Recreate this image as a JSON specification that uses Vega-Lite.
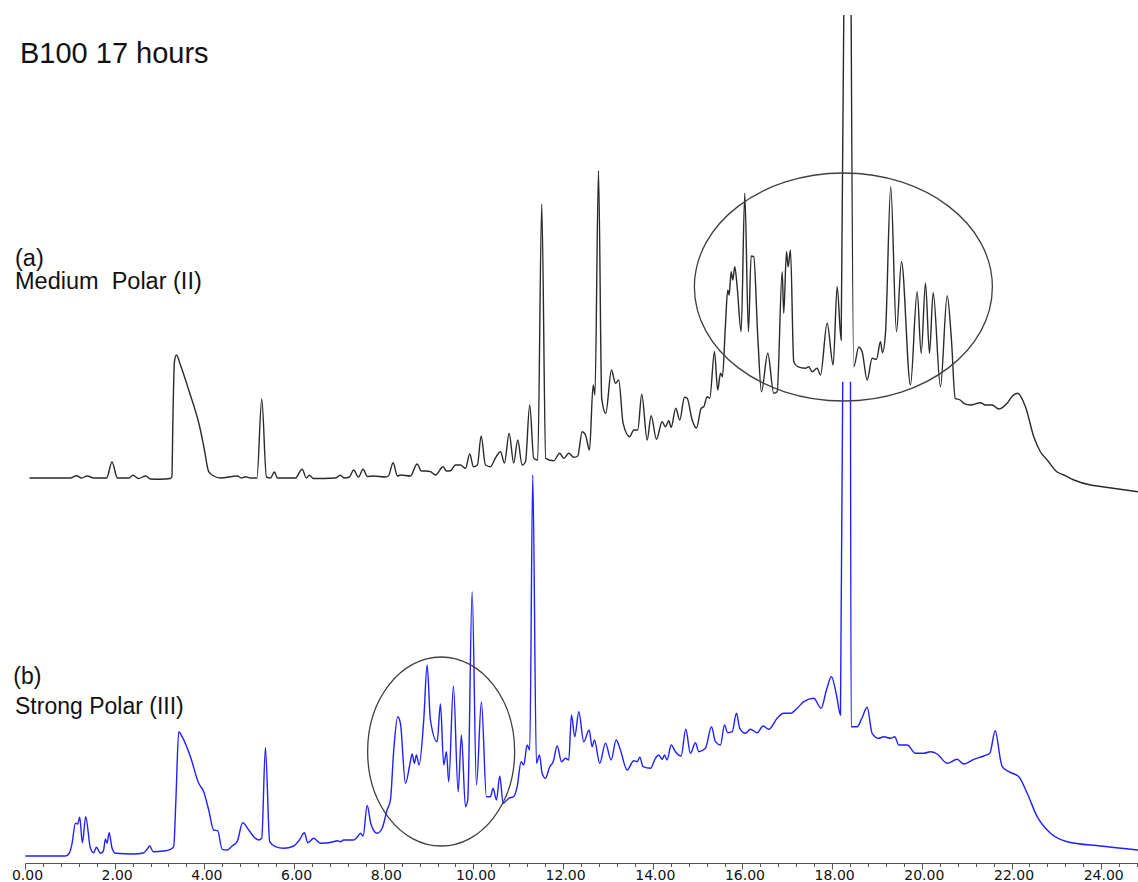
{
  "$schema": "https://vega.github.io/schema/vega-lite/v6.json",
  "width": 1113,
  "height": 863,
  "autosize": "none",
  "padding": {"left": 25, "top": 0, "right": 0, "bottom": 19},
  "background": "white",
  "config": {"view": {"stroke": null}, "font": "Liberation Sans"},
  "datasets": {
    "mediumPolar": [
      {"t": 0.10, "v": 0}, {"t": 1.01, "v": 0}, {"t": 1.15, "v": 2.3}, {"t": 1.26, "v": 0}, {"t": 1.39, "v": 2}, {"t": 1.53, "v": 0},
      {"t": 1.82, "v": 0}, {"t": 1.94, "v": 16}, {"t": 2.06, "v": 0}, {"t": 2.31, "v": 0}, {"t": 2.41, "v": 2.7}, {"t": 2.53, "v": -0.5},
      {"t": 2.69, "v": 2}, {"t": 2.80, "v": -1}, {"t": 3.02, "v": -1.3}, {"t": 3.24, "v": -0.5}, {"t": 3.276, "v": 1}, {"t": 3.298, "v": 58},
      {"t": 3.332, "v": 116}, {"t": 3.376, "v": 123}, {"t": 3.466, "v": 113}, {"t": 3.651, "v": 88}, {"t": 3.912, "v": 48}, {"t": 4.001, "v": 28},
      {"t": 4.097, "v": 6.3}, {"t": 4.208, "v": 2}, {"t": 4.358, "v": 0}, {"t": 4.737, "v": 2}, {"t": 4.826, "v": 0}, {"t": 4.915, "v": 1.3},
      {"t": 5.027, "v": 0}, {"t": 5.172, "v": 0}, {"t": 5.279, "v": 79}, {"t": 5.384, "v": 1}, {"t": 5.473, "v": 0}, {"t": 5.562, "v": 6},
      {"t": 5.629, "v": 0}, {"t": 6.030, "v": 0}, {"t": 6.180, "v": 8.7}, {"t": 6.275, "v": 0}, {"t": 6.342, "v": 2.7}, {"t": 6.432, "v": -0.5},
      {"t": 6.922, "v": 0}, {"t": 7.034, "v": 2.7}, {"t": 7.123, "v": 0}, {"t": 7.235, "v": 1}, {"t": 7.330, "v": 8}, {"t": 7.435, "v": 1},
      {"t": 7.540, "v": 8.7}, {"t": 7.636, "v": 1.5}, {"t": 7.770, "v": 2}, {"t": 8.038, "v": 1}, {"t": 8.104, "v": 2}, {"t": 8.209, "v": 15.3},
      {"t": 8.305, "v": 2}, {"t": 8.372, "v": 3}, {"t": 8.595, "v": 2}, {"t": 8.744, "v": 14}, {"t": 8.840, "v": 7}, {"t": 8.930, "v": 7},
      {"t": 9.041, "v": 6.3}, {"t": 9.153, "v": 3}, {"t": 9.324, "v": 11.3}, {"t": 9.398, "v": 7}, {"t": 9.488, "v": 7.3}, {"t": 9.600, "v": 13},
      {"t": 9.711, "v": 13}, {"t": 9.823, "v": 9.7}, {"t": 9.918, "v": 24}, {"t": 10.000, "v": 11.3}, {"t": 10.089, "v": 13}, {"t": 10.172, "v": 42},
      {"t": 10.268, "v": 13}, {"t": 10.380, "v": 11.3}, {"t": 10.491, "v": 20}, {"t": 10.603, "v": 26.3}, {"t": 10.692, "v": 15}, {"t": 10.796, "v": 44.7},
      {"t": 10.898, "v": 15}, {"t": 10.988, "v": 38}, {"t": 11.086, "v": 13}, {"t": 11.160, "v": 16}, {"t": 11.255, "v": 73}, {"t": 11.345, "v": 19.7},
      {"t": 11.434, "v": 18}, {"t": 11.523, "v": 274}, {"t": 11.612, "v": 19.7}, {"t": 11.790, "v": 17.3}, {"t": 11.925, "v": 24.7}, {"t": 12.014, "v": 19.7},
      {"t": 12.126, "v": 24.7}, {"t": 12.237, "v": 20.7}, {"t": 12.326, "v": 22}, {"t": 12.425, "v": 46.3}, {"t": 12.499, "v": 43}, {"t": 12.588, "v": 28},
      {"t": 12.670, "v": 93}, {"t": 12.710, "v": 83}, {"t": 12.789, "v": 307.3}, {"t": 12.861, "v": 79.7}, {"t": 12.951, "v": 64.7}, {"t": 13.078, "v": 108},
      {"t": 13.167, "v": 94.7}, {"t": 13.240, "v": 98}, {"t": 13.338, "v": 54.7}, {"t": 13.486, "v": 41.3}, {"t": 13.575, "v": 48}, {"t": 13.664, "v": 48},
      {"t": 13.754, "v": 83.7}, {"t": 13.874, "v": 38}, {"t": 13.963, "v": 62.3}, {"t": 14.081, "v": 38.7}, {"t": 14.208, "v": 56.3}, {"t": 14.282, "v": 51.3},
      {"t": 14.356, "v": 57.3}, {"t": 14.409, "v": 50.7}, {"t": 14.512, "v": 69.7}, {"t": 14.601, "v": 58}, {"t": 14.706, "v": 80.7}, {"t": 14.766, "v": 79.7},
      {"t": 14.878, "v": 58}, {"t": 14.974, "v": 50}, {"t": 15.079, "v": 69.7}, {"t": 15.136, "v": 71.3}, {"t": 15.212, "v": 81.3}, {"t": 15.270, "v": 79.7},
      {"t": 15.375, "v": 126.3}, {"t": 15.448, "v": 88}, {"t": 15.509, "v": 104.7}, {"t": 15.553, "v": 101.3}, {"t": 15.620, "v": 153}, {"t": 15.671, "v": 188},
      {"t": 15.702, "v": 183}, {"t": 15.747, "v": 206.3}, {"t": 15.783, "v": 198}, {"t": 15.828, "v": 211.3}, {"t": 15.881, "v": 191.3}, {"t": 15.970, "v": 146.3},
      {"t": 16.051, "v": 284.7}, {"t": 16.133, "v": 146.3}, {"t": 16.193, "v": 222}, {"t": 16.251, "v": 221.3}, {"t": 16.341, "v": 141.3}, {"t": 16.423, "v": 86.3},
      {"t": 16.564, "v": 124.7}, {"t": 16.697, "v": 84.7}, {"t": 16.773, "v": 86.3}, {"t": 16.885, "v": 206.3}, {"t": 16.920, "v": 164.7}, {"t": 16.981, "v": 226.3},
      {"t": 17.018, "v": 211.3}, {"t": 17.070, "v": 228}, {"t": 17.143, "v": 116.3}, {"t": 17.232, "v": 111.3}, {"t": 17.404, "v": 109.7}, {"t": 17.478, "v": 111.3},
      {"t": 17.553, "v": 106.3}, {"t": 17.665, "v": 109.7}, {"t": 17.739, "v": 103}, {"t": 17.888, "v": 154.7}, {"t": 18.022, "v": 113}, {"t": 18.111, "v": 191.3},
      {"t": 18.201, "v": 138}, {"t": 18.259, "v": 463}, {"t": 18.34, "v": null}, {"t": 18.423, "v": 463}, {"t": 18.481, "v": 111.3}, {"t": 18.593, "v": 130.7},
      {"t": 18.668, "v": 126.3}, {"t": 18.780, "v": 98}, {"t": 18.891, "v": 119.7}, {"t": 18.988, "v": 118.7}, {"t": 19.077, "v": 136.3}, {"t": 19.122, "v": 125.3},
      {"t": 19.189, "v": 144.7}, {"t": 19.306, "v": 291.3}, {"t": 19.434, "v": 146.3}, {"t": 19.545, "v": 216.3}, {"t": 19.746, "v": 93}, {"t": 19.895, "v": 186.3},
      {"t": 19.985, "v": 124.7}, {"t": 20.081, "v": 194.7}, {"t": 20.170, "v": 124.7}, {"t": 20.252, "v": 185.3}, {"t": 20.415, "v": 91.3}, {"t": 20.565, "v": 182.3},
      {"t": 20.66, "v": 138}, {"t": 20.743, "v": 79.7}, {"t": 20.855, "v": 78}, {"t": 20.934, "v": 74.7}, {"t": 21.083, "v": 73}, {"t": 21.306, "v": 75.3},
      {"t": 21.418, "v": 73}, {"t": 21.567, "v": 73}, {"t": 21.714, "v": 69}, {"t": 21.902, "v": 74.7}, {"t": 22.020, "v": 82}, {"t": 22.132, "v": 84.7},
      {"t": 22.310, "v": 71.3}, {"t": 22.496, "v": 41.3}, {"t": 22.646, "v": 26}, {"t": 22.795, "v": 18}, {"t": 23.018, "v": 6}, {"t": 23.167, "v": 3},
      {"t": 23.390, "v": -2}, {"t": 23.762, "v": -7}, {"t": 23.985, "v": -8.5}, {"t": 24.82, "v": -13.7}
    ],
    "strongPolar": [
      {"t": 0.01, "v": 1}, {"t": 0.90, "v": 1}, {"t": 0.99, "v": 4}, {"t": 1.05, "v": 13.7}, {"t": 1.124, "v": 33.7}, {"t": 1.175, "v": 33},
      {"t": 1.22, "v": 39.7}, {"t": 1.28, "v": 14.3}, {"t": 1.354, "v": 40.3}, {"t": 1.459, "v": 8.7}, {"t": 1.532, "v": 4.3}, {"t": 1.592, "v": 9.7},
      {"t": 1.682, "v": 3.7}, {"t": 1.748, "v": 6}, {"t": 1.793, "v": 18}, {"t": 1.831, "v": 13.7}, {"t": 1.876, "v": 24.3}, {"t": 1.942, "v": 8.7},
      {"t": 2.016, "v": 3.7}, {"t": 2.424, "v": 3}, {"t": 2.64, "v": 4}, {"t": 2.723, "v": 7.7}, {"t": 2.781, "v": 11}, {"t": 2.857, "v": 5.3},
      {"t": 3.093, "v": 6}, {"t": 3.243, "v": 7.7}, {"t": 3.316, "v": 10.3}, {"t": 3.365, "v": 57}, {"t": 3.428, "v": 125.3}, {"t": 3.503, "v": 120.3},
      {"t": 3.689, "v": 100.3}, {"t": 3.874, "v": 73.7}, {"t": 3.985, "v": 65.3}, {"t": 4.097, "v": 47}, {"t": 4.208, "v": 27}, {"t": 4.297, "v": 26.3},
      {"t": 4.396, "v": 7.7}, {"t": 4.507, "v": 7}, {"t": 4.619, "v": 11}, {"t": 4.73, "v": 15.3}, {"t": 4.855, "v": 34.3}, {"t": 4.989, "v": 27},
      {"t": 5.138, "v": 18.7}, {"t": 5.212, "v": 17}, {"t": 5.279, "v": 18.7}, {"t": 5.361, "v": 109.3}, {"t": 5.457, "v": 15.3}, {"t": 5.584, "v": 10.3},
      {"t": 5.769, "v": 8.7}, {"t": 5.992, "v": 11}, {"t": 6.12, "v": 17}, {"t": 6.231, "v": 24.3}, {"t": 6.305, "v": 14.3}, {"t": 6.439, "v": 18.7},
      {"t": 6.588, "v": 13.7}, {"t": 6.885, "v": 15.3}, {"t": 6.96, "v": 16.3}, {"t": 7.034, "v": 15.3}, {"t": 7.108, "v": 17}, {"t": 7.331, "v": 17},
      {"t": 7.406, "v": 19.7}, {"t": 7.48, "v": 23.7}, {"t": 7.54, "v": 21}, {"t": 7.63, "v": 51.5}, {"t": 7.714, "v": 33}, {"t": 7.852, "v": 23.7},
      {"t": 7.964, "v": 28.7}, {"t": 8.075, "v": 47}, {"t": 8.149, "v": 57}, {"t": 8.223, "v": 107}, {"t": 8.312, "v": 140.3}, {"t": 8.372, "v": 133.7},
      {"t": 8.484, "v": 73.7}, {"t": 8.58, "v": 92}, {"t": 8.633, "v": 103}, {"t": 8.684, "v": 93.7}, {"t": 8.729, "v": 102}, {"t": 8.789, "v": 92},
      {"t": 8.892, "v": 137}, {"t": 8.967, "v": 192}, {"t": 9.041, "v": 137}, {"t": 9.191, "v": 115.3}, {"t": 9.264, "v": 153}, {"t": 9.338, "v": 92},
      {"t": 9.398, "v": 105.3}, {"t": 9.449, "v": 75.3}, {"t": 9.554, "v": 171}, {"t": 9.659, "v": 65.3}, {"t": 9.732, "v": 122}, {"t": 9.822, "v": 50.3},
      {"t": 9.873, "v": 57}, {"t": 9.971, "v": 265.3}, {"t": 10.067, "v": 72}, {"t": 10.178, "v": 155.3}, {"t": 10.29, "v": 60.3}, {"t": 10.379, "v": 60.3},
      {"t": 10.439, "v": 68.7}, {"t": 10.513, "v": 57}, {"t": 10.587, "v": 81}, {"t": 10.663, "v": 53.7}, {"t": 10.787, "v": 58.7}, {"t": 10.899, "v": 60.3},
      {"t": 10.975, "v": 70.3}, {"t": 11.064, "v": 95.3}, {"t": 11.122, "v": 92}, {"t": 11.198, "v": 112}, {"t": 11.256, "v": 107}, {"t": 11.323, "v": 382},
      {"t": 11.405, "v": 93.7}, {"t": 11.472, "v": 102}, {"t": 11.532, "v": 83.7}, {"t": 11.606, "v": 78.7}, {"t": 11.702, "v": 90.3}, {"t": 11.778, "v": 95.3},
      {"t": 11.868, "v": 111}, {"t": 11.964, "v": 95.3}, {"t": 12.053, "v": 98.7}, {"t": 12.126, "v": 97}, {"t": 12.186, "v": 142}, {"t": 12.26, "v": 120.3},
      {"t": 12.349, "v": 145.3}, {"t": 12.46, "v": 115.3}, {"t": 12.58, "v": 127}, {"t": 12.647, "v": 110.3}, {"t": 12.699, "v": 117}, {"t": 12.816, "v": 93.7},
      {"t": 12.944, "v": 113.7}, {"t": 13.071, "v": 97}, {"t": 13.182, "v": 117}, {"t": 13.278, "v": 107}, {"t": 13.428, "v": 87}, {"t": 13.575, "v": 96.3},
      {"t": 13.651, "v": 95.3}, {"t": 13.709, "v": 99.7}, {"t": 13.784, "v": 90.3}, {"t": 13.947, "v": 88.7}, {"t": 14.059, "v": 98.7}, {"t": 14.133, "v": 102},
      {"t": 14.208, "v": 97.7}, {"t": 14.26, "v": 102}, {"t": 14.32, "v": 97}, {"t": 14.409, "v": 112}, {"t": 14.505, "v": 105.3}, {"t": 14.632, "v": 101},
      {"t": 14.735, "v": 127.7}, {"t": 14.839, "v": 103.7}, {"t": 14.951, "v": 114.3}, {"t": 15.025, "v": 105.3}, {"t": 15.174, "v": 108.7}, {"t": 15.308, "v": 130.3},
      {"t": 15.397, "v": 115.3}, {"t": 15.509, "v": 112}, {"t": 15.598, "v": 132}, {"t": 15.671, "v": 124.3}, {"t": 15.77, "v": 125.3}, {"t": 15.865, "v": 143.7},
      {"t": 15.939, "v": 128.7}, {"t": 16.066, "v": 123.7}, {"t": 16.178, "v": 127.7}, {"t": 16.327, "v": 124.3}, {"t": 16.461, "v": 131}, {"t": 16.586, "v": 127.7},
      {"t": 16.773, "v": 138.7}, {"t": 16.92, "v": 143.7}, {"t": 17.07, "v": 143.7}, {"t": 17.219, "v": 148.7}, {"t": 17.366, "v": 155.3}, {"t": 17.589, "v": 158.7},
      {"t": 17.754, "v": 148.7}, {"t": 17.872, "v": 167}, {"t": 17.984, "v": 180.3}, {"t": 18.096, "v": 162}, {"t": 18.185, "v": 142}, {"t": 18.236, "v": 475.3},
      {"t": 18.32, "v": null}, {"t": 18.408, "v": 475.3}, {"t": 18.423, "v": 130.3}, {"t": 18.557, "v": 130.3}, {"t": 18.664, "v": 139}, {"t": 18.78, "v": 149.7},
      {"t": 18.891, "v": 123.7}, {"t": 19.038, "v": 118.7}, {"t": 19.15, "v": 120.3}, {"t": 19.3, "v": 118.7}, {"t": 19.395, "v": 120.3}, {"t": 19.485, "v": 112},
      {"t": 19.672, "v": 112}, {"t": 19.858, "v": 103.7}, {"t": 20.043, "v": 103.7}, {"t": 20.192, "v": 105.3}, {"t": 20.342, "v": 103}, {"t": 20.565, "v": 93.7},
      {"t": 20.788, "v": 97.7}, {"t": 20.935, "v": 93}, {"t": 21.158, "v": 97.7}, {"t": 21.381, "v": 101}, {"t": 21.515, "v": 103.7}, {"t": 21.636, "v": 126.3},
      {"t": 21.754, "v": 97}, {"t": 21.792, "v": 90.3}, {"t": 21.939, "v": 85.3}, {"t": 22.162, "v": 80.3}, {"t": 22.349, "v": 63.7}, {"t": 22.572, "v": 40.3},
      {"t": 22.869, "v": 23.7}, {"t": 23.242, "v": 15.3}, {"t": 23.985, "v": 11}, {"t": 24.82, "v": 7}
    ],
    "regionA": [{"t": 18.25, "v": 191}],
    "regionB": [{"t": 9.28, "v": 105.5}],
    "headline": [{"t": -0.112, "v": 414.7, "label": "B100 17 hours"}],
    "labelsA": [
      {"t": -0.223, "v": 212.5, "label": "(a)"},
      {"t": -0.223, "v": 188.7, "label": "Medium\u00a0 Polar (II)"}
    ],
    "labelsB": [
      {"t": -0.261, "v": 173.2, "label": "(b)"},
      {"t": -0.223, "v": 142.7, "label": "Strong Polar (III)"}
    ]
  },
  "encoding": {
    "x": {
      "field": "t", "type": "quantitative",
      "scale": {"domain": [0, 24.82], "nice": false, "zero": false},
      "axis": {
        "title": null, "grid": false,
        "values": [0, 0.4, 0.8, 1.2, 1.6, 2, 2.4, 2.8, 3.2, 3.6, 4, 4.4, 4.8, 5.2, 5.6, 6, 6.4, 6.8, 7.2, 7.6, 8, 8.4, 8.8, 9.2, 9.6, 10, 10.4, 10.8, 11.2, 11.6, 12, 12.4, 12.8, 13.2, 13.6, 14, 14.4, 14.8, 15.2, 15.6, 16, 16.4, 16.8, 17.2, 17.6, 18, 18.4, 18.8, 19.2, 19.6, 20, 20.4, 20.8, 21.2, 21.6, 22, 22.4, 22.8, 23.2, 23.6, 24, 24.4, 24.8],
        "labelExpr": "abs(datum.value / 2 - round(datum.value / 2)) < 0.01 ? format(datum.value, '.2f') : ''",
        "tickSize": 6,
        "tickDash": {"condition": {"test": "abs(datum.value / 2 - round(datum.value / 2)) < 0.01", "value": [6, 0]}, "value": [3.5, 20]},
        "domainColor": "#555555", "domainWidth": 1.2, "tickColor": "#555555", "tickWidth": 1,
        "labelFont": "DejaVu Sans", "labelFontSize": 14, "labelColor": "#111111",
        "labelPadding": -1, "labelOffset": 2, "labelOverlap": false, "labelFlush": false
      }
    }
  },
  "layer": [
    {
      "data": {"name": "mediumPolar"},
      "mark": {"type": "line", "color": "#2a2a2a", "strokeWidth": 1.4, "interpolate": "monotone", "invalid": "break-paths-filter-domains"},
      "encoding": {
        "y": {"field": "v", "type": "quantitative", "scale": {"domain": [-385, 478], "nice": false, "zero": false}, "axis": null}
      }
    },
    {
      "data": {"name": "strongPolar"},
      "mark": {"type": "line", "color": "#2020ff", "strokeWidth": 1.4, "interpolate": "monotone", "invalid": "break-paths-filter-domains"},
      "encoding": {
        "y": {"field": "v", "type": "quantitative", "scale": {"domain": [-6, 857], "nice": false, "zero": false}, "axis": null}
      }
    },
    {
      "data": {"name": "regionA"},
      "mark": {"type": "point", "filled": false, "opacity": 1, "stroke": "#404040", "strokeWidth": 1.3, "size": 88804,
        "shape": "M -1 0 C -1 -0.4226 -0.5523 -0.7651 0 -0.7651 C 0.5523 -0.7651 1 -0.4226 1 0 C 1 0.4226 0.5523 0.7651 0 0.7651 C -0.5523 0.7651 -1 0.4226 -1 0 Z"},
      "encoding": {
        "y": {"field": "v", "type": "quantitative", "scale": {"domain": [-385, 478], "nice": false, "zero": false}, "axis": null}
      }
    },
    {
      "data": {"name": "regionB"},
      "mark": {"type": "point", "filled": false, "opacity": 1, "stroke": "#404040", "strokeWidth": 1.3, "size": 35721,
        "shape": "M -0.7778 0 C -0.7778 -0.5523 -0.4296 -1 0 -1 C 0.4296 -1 0.7778 -0.5523 0.7778 0 C 0.7778 0.5523 0.4296 1 0 1 C -0.4296 1 -0.7778 0.5523 -0.7778 0 Z"},
      "encoding": {
        "y": {"field": "v", "type": "quantitative", "scale": {"domain": [-6, 857], "nice": false, "zero": false}, "axis": null}
      }
    },
    {
      "data": {"name": "headline"},
      "mark": {"type": "text", "align": "left", "baseline": "alphabetic", "font": "Liberation Sans", "fontSize": 29, "color": "#111111"},
      "encoding": {
        "y": {"field": "v", "type": "quantitative", "scale": {"domain": [-385, 478], "nice": false, "zero": false}, "axis": null},
        "text": {"field": "label"}
      }
    },
    {
      "data": {"name": "labelsA"},
      "mark": {"type": "text", "align": "left", "baseline": "alphabetic", "font": "Liberation Sans", "fontSize": 23.5, "color": "#111111"},
      "encoding": {
        "y": {"field": "v", "type": "quantitative", "scale": {"domain": [-385, 478], "nice": false, "zero": false}, "axis": null},
        "text": {"field": "label"}
      }
    },
    {
      "data": {"name": "labelsB"},
      "mark": {"type": "text", "align": "left", "baseline": "alphabetic", "font": "Liberation Sans", "fontSize": 23, "color": "#111111"},
      "encoding": {
        "y": {"field": "v", "type": "quantitative", "scale": {"domain": [-6, 857], "nice": false, "zero": false}, "axis": null},
        "text": {"field": "label"}
      }
    }
  ],
  "resolve": {"scale": {"y": "independent"}}
}
